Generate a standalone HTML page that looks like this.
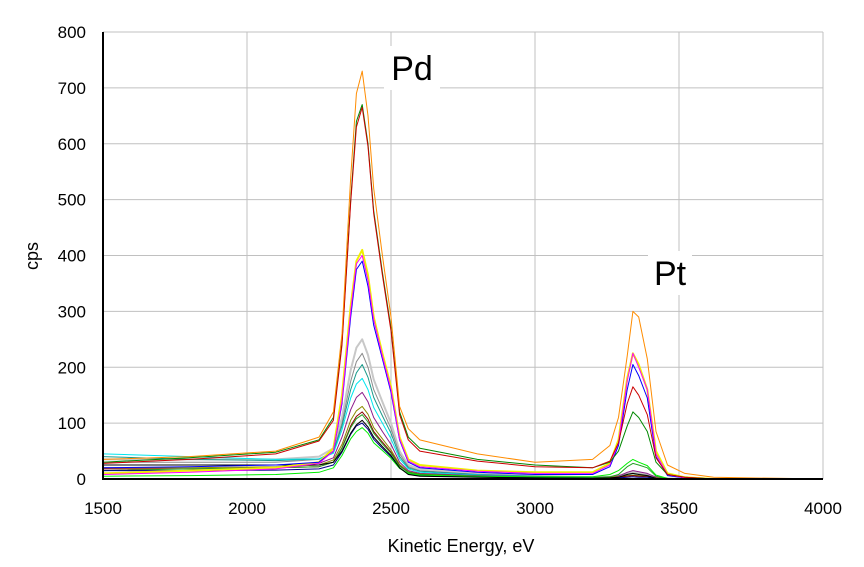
<!DOCTYPE html>
<html><head><meta charset="utf-8"><style>
body{margin:0;background:#fff}
svg{display:block;font-family:"Liberation Sans",Arial,sans-serif}
</style></head><body>
<svg id="chart" width="864" height="567"></svg>
<script>
const energies=[1500,1800,2100,2250,2300,2330,2360,2380,2400,2420,2440,2470,2500,2530,2560,2600,2800,3000,3200,3260,3290,3320,3340,3360,3390,3420,3460,3520,3620,4000];
const orange=[35,40,50,75,120,260,540,690,730,650,520,400,290,130,90,70,45,30,35,60,110,220,300,290,215,85,25,10,3,0];
const green=[30,38,48,70,110,245,500,640,670,600,480,370,270,120,75,55,35,25,20,30,50,95,120,110,85,30,8,3,0,0];
const red=[28,35,45,68,105,240,495,630,665,595,475,365,265,115,70,50,32,22,20,32,65,135,165,150,115,38,8,3,0,0];
const yellow=[10,15,20,30,55,150,310,390,410,365,290,225,165,75,35,25,15,12,12,28,70,180,225,205,160,50,10,3,0,0];
const magenta=[8,12,18,28,50,140,300,385,400,355,285,220,160,72,32,22,14,10,10,25,65,175,225,200,160,45,8,2,0,0];
const blue=[20,22,25,30,50,135,290,375,390,345,275,215,155,70,30,20,12,8,8,22,60,160,205,185,145,40,6,2,0,0];
const lightgray=[35,35,35,40,55,110,195,235,250,222,178,138,100,50,25,18,10,6,3,4,6,10,12,10,8,3,1,0,0,0];
const gray=[30,30,30,35,50,100,175,210,225,200,160,125,90,45,22,15,8,5,3,4,6,9,10,9,7,2,1,0,0,0];
const teal=[40,35,33,36,48,95,160,190,205,182,146,113,82,40,20,14,8,5,2,3,4,6,7,6,5,2,0,0,0,0];
const cyan=[45,40,35,36,46,88,145,170,180,160,128,100,72,36,18,12,7,4,2,3,4,6,7,6,5,2,0,0,0,0];
const purple=[25,25,25,28,38,75,124,146,155,138,110,85,62,30,15,10,6,4,2,3,5,12,15,13,10,3,0,0,0,0];
const olive=[20,20,22,25,34,62,105,122,130,116,92,72,52,26,13,9,5,3,2,3,4,6,7,6,5,2,0,0,0,0];
const darkred=[18,18,20,22,30,56,95,112,120,107,85,66,48,24,12,8,5,3,2,2,3,5,6,5,4,1,0,0,0,0];
const midgreen=[15,18,20,22,30,55,92,108,115,102,82,63,46,23,12,8,5,3,2,4,8,22,28,25,20,5,0,0,0,0];
const navy=[15,15,16,18,25,48,80,95,100,89,71,55,40,20,9,6,4,2,1,1,2,3,4,3,3,1,0,0,0,0];
const brightgreen=[5,6,8,12,20,42,72,85,92,82,65,51,37,19,10,7,5,4,4,8,15,28,35,30,24,7,1,0,0,0];
const black=[25,25,25,25,30,50,82,97,105,93,75,58,42,20,8,5,3,2,1,2,3,8,10,8,6,1,0,0,0,0];
const xTicks=[1500,2000,2500,3000,3500,4000];
const yTicks=[0,100,200,300,400,500,600,700,800];

const series=[
 ["lightgray",lightgray,"#c8c8c8",2],["gray",gray,"#8c8c8c",1],["teal",teal,"#1a9a8a",1],
 ["cyan",cyan,"#00e5ee",1],["purple",purple,"#8b1a8b",1],["olive",olive,"#8b8b00",1],
 ["darkred",darkred,"#8b0000",1],["midgreen",midgreen,"#22a022",1],["navy",navy,"#00008b",1],
 ["brightgreen",brightgreen,"#00ee00",1],["black",black,"#000000",1],
 ["yellow",yellow,"#f0f000",2],["blue",blue,"#0000ff",1],["magenta",magenta,"#ff00ff",1],
 ["green",green,"#008800",1],["red",red,"#cc0000",1],["orange",orange,"#ff8c00",1]];

const X0=103,X1=823,Y0=479,Y1=32;
const xs=v=>X0+(v-1500)/2500*(X1-X0);
const ys=v=>Y0-v/800*(Y0-Y1);
const svg=document.getElementById('chart');
const NS="http://www.w3.org/2000/svg";
function mk(t,a){const e=document.createElementNS(NS,t);for(const k in a)e.setAttribute(k,a[k]);svg.appendChild(e);return e;}

xTicks.forEach(t=>{
 const l=mk('line',{x1:xs(t),x2:xs(t),y1:Y1,y2:Y0,stroke:'#c0c0c0'});
 
 
 const tx=mk('text',{x:xs(t),y:514,'font-size':17,'text-anchor':'middle'});tx.textContent=t;
 
 
});
yTicks.forEach(t=>{
 const l=mk('line',{x1:X0,x2:X1,y1:ys(t),y2:ys(t),stroke:'#c0c0c0'});
 
 
 const tx=mk('text',{x:86,y:ys(t)+6,'font-size':17,'text-anchor':'end'});tx.textContent=t;
 
 
});
series.forEach(s=>{
 const d=energies.map((e,i)=>(i?'L':'M')+xs(e).toFixed(1)+','+ys(s[1][i]).toFixed(1)).join('');
 const p=mk('path',{d:d,fill:'none',stroke:s[2],'stroke-width':s[3],'stroke-linejoin':'round'});
 
 
});
const ax=mk('path',{d:`M${X0},${Y1}V${Y0}H${X1}`,fill:'none',stroke:'#000','stroke-width':2});



function label(txt,x,y,w,name){
 const r=mk('rect',{x:x-w/2,y:y-34,width:w,height:44,fill:'#fff'});
 
 
 const t=mk('text',{x:x,y:y,'font-size':34,'text-anchor':'middle'});t.textContent=txt;
 
 
}
label('Pd',412,80,56,'pd-peak-label');
label('Pt',670,285,44,'pt-peak-label');

const xt=mk('text',{x:461,y:552,'font-size':18,'text-anchor':'middle'});xt.textContent='Kinetic Energy, eV';


const yt=mk('text',{x:0,y:0,'font-size':18,'text-anchor':'middle',transform:'translate(38,256) rotate(-90)'});yt.textContent='cps';


</script>
</body></html>
